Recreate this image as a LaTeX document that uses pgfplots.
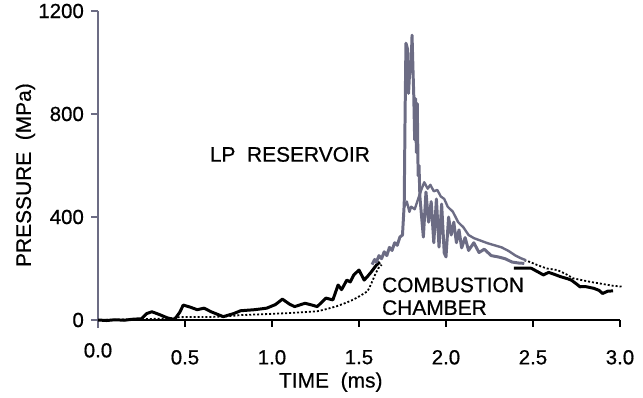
\documentclass[border=0pt]{standalone}
\usepackage{fontspec}
\setmainfont{Liberation Sans}[FakeBold=0.6]
\usepackage{pgfplots}
\pgfplotsset{compat=1.18}
\definecolor{slate}{RGB}{108,108,132}
\begin{document}
\begin{tikzpicture}
\begin{axis}[
  width=522bp, height=309bp, scale only axis,
  xmin=0, xmax=3, ymin=0, ymax=1200,
  axis x line=bottom, axis y line=left,
  x axis line style={black, line width=2.6pt, -},
  y axis line style={slate, line width=2.8pt, -, shorten <=-8pt},
  tick align=outside,
  xtick={0.5,1.0,1.5,2.0,2.5,3.0},
  extra x ticks={0}, extra x tick style={major tick length=0pt},
  ytick={0,400,800,1200},
  major tick length=7pt,
  xtick style={black, line width=2pt},
  ytick style={slate, line width=2pt},
  font=\fontsize{20.5}{24}\selectfont,
  /pgf/number format/assume math mode=true,
  /pgf/number format/1000 sep={},
  xticklabel style={inner sep=0pt, anchor=north, yshift=-23pt, font=\fontsize{20.5}{24}\selectfont,
    /pgf/number format/.cd, fixed, fixed zerofill, precision=1},
  yticklabel style={inner sep=0pt, anchor=east, xshift=-7pt, font=\fontsize{20.5}{24}\selectfont},
  xlabel={TIME\ \ (ms)},
  ylabel={PRESSURE\ \ (MPa)},
  xlabel style={at={(axis description cs:0.446,-0.201)}, anchor=center, inner sep=0pt, font=\fontsize{21}{24}\selectfont},
  ylabel style={at={(axis description cs:-0.139,0.469)}, anchor=center, inner sep=0pt, font=\fontsize{21}{24}\selectfont},
  clip=false,
]
\path (rel axis cs:-0.1877,-0.2524) rectangle (rel axis cs:1.0441,1.0356);
% dotted curve
\addplot[black, line width=1.8pt, dash pattern=on 2pt off 2pt] coordinates {
(0,0) (0.1,1) (0.2,2) (0.3,4) (0.4,6) (0.47,11) (0.55,12) (0.65,12) (0.72,13) (0.82,19) (0.97,23) (1.1,27) (1.2,31) (1.26,34) (1.3,40) (1.37,53) (1.43,68) (1.47,80) (1.51,95) (1.55,112) (1.57,140) (1.59,172) (1.61,200) (1.63,215)
};
\addplot[black, line width=1.8pt, dash pattern=on 2pt off 2pt] coordinates {
(2.45,232) (2.48,226) (2.53,212) (2.58,200) (2.64,194) (2.69,178) (2.73,162) (2.78,155) (2.83,148) (2.9,140) (2.96,133) (3.02,129)
};
% combustion chamber (black)
\addplot[black, line width=3pt, line join=round] coordinates {
(0,0) (0.05,-2) (0.1,1) (0.15,-1) (0.2,3) (0.25,5) (0.28,25) (0.31,32) (0.35,22) (0.4,8) (0.44,2) (0.47,30) (0.49,58) (0.53,50) (0.57,40) (0.61,46) (0.65,32) (0.72,13) (0.78,25) (0.82,36) (0.9,40) (0.97,46) (1.02,60) (1.06,81) (1.1,62) (1.13,52) (1.19,65) (1.23,58) (1.26,52) (1.31,85) (1.35,78) (1.38,136) (1.40,118) (1.41,130) (1.43,155) (1.45,148) (1.47,175) (1.5,194) (1.53,155) (1.55,170) (1.57,186) (1.60,213) (1.62,225)
};
\addplot[black, line width=3pt, line join=round] coordinates {
(2.39,201) (2.49,201) (2.52,190) (2.56,175) (2.59,185) (2.62,178) (2.66,168) (2.70,160) (2.72,155) (2.75,140) (2.77,129) (2.8,130) (2.85,123) (2.88,115) (2.9,103) (2.93,112) (2.96,113)
};
% LP reservoir (gray)
\addplot[slate, line width=2.4pt, line join=round] coordinates {
(1.76,440) (1.775,460) (1.79,420) (1.80,440) (1.82,430) (1.84,470) (1.855,500) (1.875,535) (1.895,510) (1.91,525) (1.93,500) (1.95,505) (1.97,480) (1.99,470) (2.01,440) (2.04,420) (2.07,380) (2.10,360) (2.13,330) (2.16,318) (2.20,308) (2.24,298) (2.28,290) (2.32,282) (2.36,268) (2.40,250) (2.43,240) (2.46,232)
};
\addplot[slate, line width=3pt, line join=round] coordinates {
(1.575,215) (1.59,235) (1.60,225) (1.615,250) (1.63,238) (1.645,265) (1.66,250) (1.675,282) (1.69,270) (1.705,300) (1.72,290) (1.735,322) (1.75,330) (1.76,450) (1.765,800) (1.77,1075) (1.78,1050) (1.785,880) (1.79,950) (1.80,1000) (1.805,1106) (1.81,980) (1.815,870) (1.82,700) (1.825,860) (1.83,650) (1.835,840) (1.84,560) (1.845,600) (1.85,480) (1.86,400) (1.87,322) (1.885,497) (1.90,380) (1.915,460) (1.93,300) (1.945,470) (1.96,283) (1.975,450) (1.99,260) (2.00,245) (2.015,400) (2.03,330) (2.045,380) (2.06,300) (2.075,350) (2.09,280) (2.11,320) (2.13,270) (2.16,300) (2.19,262) (2.22,275) (2.26,250) (2.30,245) (2.34,238) (2.38,225) (2.42,221) (2.45,220)
};
\node[inner sep=0pt, anchor=center, font=\fontsize{21}{24}\selectfont] at (axis cs:1.103,643) {LP\ \ RESERVOIR};
\node[inner sep=0pt, anchor=west, font=\fontsize{21}{24}\selectfont] at (axis cs:1.632,136) {COMBUSTION};
\node[inner sep=0pt, anchor=west, font=\fontsize{21}{24}\selectfont] at (axis cs:1.632,48) {CHAMBER};
\end{axis}
\end{tikzpicture}
\end{document}
